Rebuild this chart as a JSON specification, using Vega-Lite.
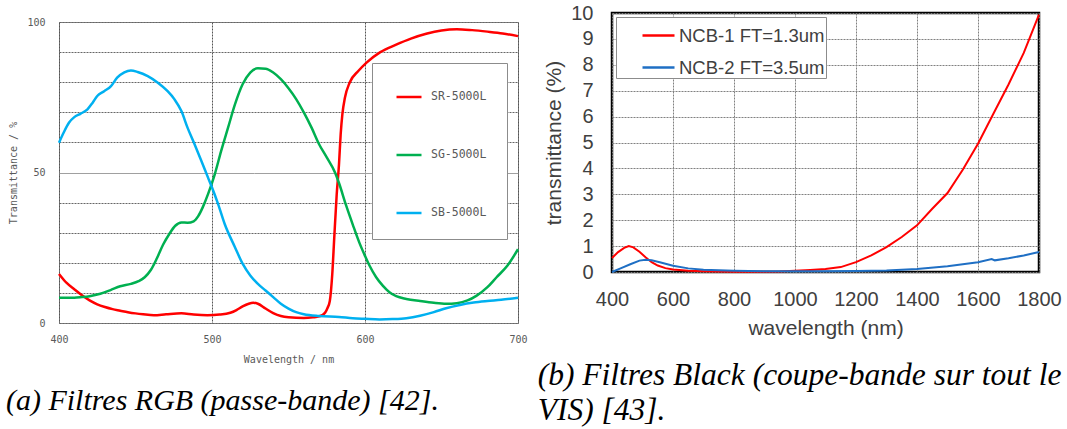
{
  "$schema": "https://vega.github.io/schema/vega-lite/v6.json",
  "background": "white",
  "padding": {"left": 5, "top": 1, "right": 0, "bottom": 0},
  "spacing": 8,
  "columns": 2,
  "resolve": {"scale": {"color": "independent", "x": "independent", "y": "independent"}, "legend": {"color": "independent"}},
  "datasets": {
    "spacer": [],
    "rgb": [
      {"wl": 400, "T": 16.3, "filter": "SR-5000L"}, {"wl": 405, "T": 13.3, "filter": "SR-5000L"}, {"wl": 410, "T": 11.2, "filter": "SR-5000L"}, {"wl": 415, "T": 9.2, "filter": "SR-5000L"}, {"wl": 420, "T": 7.5, "filter": "SR-5000L"}, {"wl": 425, "T": 6.2, "filter": "SR-5000L"}, {"wl": 430, "T": 5.3, "filter": "SR-5000L"}, {"wl": 435, "T": 4.6, "filter": "SR-5000L"}, {"wl": 440, "T": 4.1, "filter": "SR-5000L"}, {"wl": 445, "T": 3.6, "filter": "SR-5000L"}, {"wl": 450, "T": 3.2, "filter": "SR-5000L"}, {"wl": 455, "T": 2.9, "filter": "SR-5000L"}, {"wl": 462, "T": 2.6, "filter": "SR-5000L"}, {"wl": 470, "T": 2.9, "filter": "SR-5000L"}, {"wl": 480, "T": 3.2, "filter": "SR-5000L"}, {"wl": 488, "T": 2.8, "filter": "SR-5000L"}, {"wl": 497, "T": 2.6, "filter": "SR-5000L"}, {"wl": 505, "T": 2.8, "filter": "SR-5000L"}, {"wl": 512, "T": 3.4, "filter": "SR-5000L"}, {"wl": 516, "T": 4.3, "filter": "SR-5000L"}, {"wl": 520, "T": 5.5, "filter": "SR-5000L"}, {"wl": 524, "T": 6.4, "filter": "SR-5000L"}, {"wl": 527, "T": 6.7, "filter": "SR-5000L"}, {"wl": 530, "T": 6.4, "filter": "SR-5000L"}, {"wl": 535, "T": 4.8, "filter": "SR-5000L"}, {"wl": 540, "T": 3.3, "filter": "SR-5000L"}, {"wl": 545, "T": 2.3, "filter": "SR-5000L"}, {"wl": 550, "T": 1.9, "filter": "SR-5000L"}, {"wl": 560, "T": 1.7, "filter": "SR-5000L"}, {"wl": 566, "T": 1.9, "filter": "SR-5000L"}, {"wl": 570, "T": 2.2, "filter": "SR-5000L"}, {"wl": 572, "T": 2.6, "filter": "SR-5000L"}, {"wl": 574, "T": 3.5, "filter": "SR-5000L"}, {"wl": 575.5, "T": 5, "filter": "SR-5000L"}, {"wl": 577, "T": 7.3, "filter": "SR-5000L"}, {"wl": 578.6, "T": 16.2, "filter": "SR-5000L"}, {"wl": 579.9, "T": 28.3, "filter": "SR-5000L"}, {"wl": 581.5, "T": 42.7, "filter": "SR-5000L"}, {"wl": 583, "T": 52.7, "filter": "SR-5000L"}, {"wl": 584.1, "T": 62.7, "filter": "SR-5000L"}, {"wl": 585.2, "T": 69.3, "filter": "SR-5000L"}, {"wl": 586.9, "T": 74.9, "filter": "SR-5000L"}, {"wl": 590, "T": 79.9, "filter": "SR-5000L"}, {"wl": 595.6, "T": 83.7, "filter": "SR-5000L"}, {"wl": 601, "T": 86.5, "filter": "SR-5000L"}, {"wl": 610, "T": 90, "filter": "SR-5000L"}, {"wl": 620, "T": 92.4, "filter": "SR-5000L"}, {"wl": 630, "T": 94.5, "filter": "SR-5000L"}, {"wl": 640, "T": 96.1, "filter": "SR-5000L"}, {"wl": 650, "T": 97.2, "filter": "SR-5000L"}, {"wl": 660, "T": 97.6, "filter": "SR-5000L"}, {"wl": 670, "T": 97.3, "filter": "SR-5000L"}, {"wl": 680, "T": 96.8, "filter": "SR-5000L"}, {"wl": 690, "T": 96.2, "filter": "SR-5000L"}, {"wl": 700, "T": 95.3, "filter": "SR-5000L"},
      {"wl": 400, "T": 8.4, "filter": "SG-5000L"}, {"wl": 405, "T": 8.4, "filter": "SG-5000L"}, {"wl": 410, "T": 8.4, "filter": "SG-5000L"}, {"wl": 415, "T": 8.6, "filter": "SG-5000L"}, {"wl": 420, "T": 8.9, "filter": "SG-5000L"}, {"wl": 427, "T": 9.7, "filter": "SG-5000L"}, {"wl": 434, "T": 11, "filter": "SG-5000L"}, {"wl": 440, "T": 12.2, "filter": "SG-5000L"}, {"wl": 447, "T": 13, "filter": "SG-5000L"}, {"wl": 452, "T": 13.9, "filter": "SG-5000L"}, {"wl": 456, "T": 15.2, "filter": "SG-5000L"}, {"wl": 460, "T": 17.6, "filter": "SG-5000L"}, {"wl": 464, "T": 21.5, "filter": "SG-5000L"}, {"wl": 468, "T": 26, "filter": "SG-5000L"}, {"wl": 472, "T": 29.5, "filter": "SG-5000L"}, {"wl": 476, "T": 32.3, "filter": "SG-5000L"}, {"wl": 480, "T": 33.4, "filter": "SG-5000L"}, {"wl": 484, "T": 33.3, "filter": "SG-5000L"}, {"wl": 488, "T": 33.8, "filter": "SG-5000L"}, {"wl": 491, "T": 35.5, "filter": "SG-5000L"}, {"wl": 494, "T": 38.5, "filter": "SG-5000L"}, {"wl": 497.4, "T": 42.8, "filter": "SG-5000L"}, {"wl": 501.8, "T": 49.4, "filter": "SG-5000L"}, {"wl": 506, "T": 57.2, "filter": "SG-5000L"}, {"wl": 510.5, "T": 64.9, "filter": "SG-5000L"}, {"wl": 515, "T": 72.6, "filter": "SG-5000L"}, {"wl": 520, "T": 79.3, "filter": "SG-5000L"}, {"wl": 525, "T": 83.2, "filter": "SG-5000L"}, {"wl": 530, "T": 84.6, "filter": "SG-5000L"}, {"wl": 535, "T": 84.5, "filter": "SG-5000L"}, {"wl": 540, "T": 83.2, "filter": "SG-5000L"}, {"wl": 545, "T": 81, "filter": "SG-5000L"}, {"wl": 550, "T": 78, "filter": "SG-5000L"}, {"wl": 555, "T": 74.4, "filter": "SG-5000L"}, {"wl": 560, "T": 70, "filter": "SG-5000L"}, {"wl": 565, "T": 65, "filter": "SG-5000L"}, {"wl": 570, "T": 59.4, "filter": "SG-5000L"}, {"wl": 575, "T": 55, "filter": "SG-5000L"}, {"wl": 580.4, "T": 50, "filter": "SG-5000L"}, {"wl": 583, "T": 46.5, "filter": "SG-5000L"}, {"wl": 587.5, "T": 39.3, "filter": "SG-5000L"}, {"wl": 592, "T": 32.7, "filter": "SG-5000L"}, {"wl": 596.3, "T": 26.7, "filter": "SG-5000L"}, {"wl": 600, "T": 22.3, "filter": "SG-5000L"}, {"wl": 603, "T": 19, "filter": "SG-5000L"}, {"wl": 607.3, "T": 15.2, "filter": "SG-5000L"}, {"wl": 611.6, "T": 12.4, "filter": "SG-5000L"}, {"wl": 616, "T": 10.2, "filter": "SG-5000L"}, {"wl": 620.4, "T": 8.9, "filter": "SG-5000L"}, {"wl": 627, "T": 8, "filter": "SG-5000L"}, {"wl": 636, "T": 7.3, "filter": "SG-5000L"}, {"wl": 645, "T": 6.7, "filter": "SG-5000L"}, {"wl": 653, "T": 6.4, "filter": "SG-5000L"}, {"wl": 660, "T": 6.6, "filter": "SG-5000L"}, {"wl": 667, "T": 7.5, "filter": "SG-5000L"}, {"wl": 673, "T": 9.1, "filter": "SG-5000L"}, {"wl": 680, "T": 11.9, "filter": "SG-5000L"}, {"wl": 686, "T": 15.2, "filter": "SG-5000L"}, {"wl": 693, "T": 19, "filter": "SG-5000L"}, {"wl": 700, "T": 24.5, "filter": "SG-5000L"},
      {"wl": 400, "T": 59.9, "filter": "SB-5000L"}, {"wl": 403, "T": 63.2, "filter": "SB-5000L"}, {"wl": 406.6, "T": 66.6, "filter": "SB-5000L"}, {"wl": 410, "T": 68.4, "filter": "SB-5000L"}, {"wl": 414, "T": 69.5, "filter": "SB-5000L"}, {"wl": 418.6, "T": 71, "filter": "SB-5000L"}, {"wl": 422, "T": 73.2, "filter": "SB-5000L"}, {"wl": 425, "T": 75.4, "filter": "SB-5000L"}, {"wl": 429.5, "T": 77, "filter": "SB-5000L"}, {"wl": 434, "T": 78.7, "filter": "SB-5000L"}, {"wl": 438, "T": 81.5, "filter": "SB-5000L"}, {"wl": 442.7, "T": 83.3, "filter": "SB-5000L"}, {"wl": 447, "T": 83.9, "filter": "SB-5000L"}, {"wl": 451.4, "T": 83.4, "filter": "SB-5000L"}, {"wl": 458, "T": 82, "filter": "SB-5000L"}, {"wl": 464.6, "T": 79.8, "filter": "SB-5000L"}, {"wl": 471, "T": 77, "filter": "SB-5000L"}, {"wl": 475.5, "T": 74.3, "filter": "SB-5000L"}, {"wl": 480, "T": 70.4, "filter": "SB-5000L"}, {"wl": 484, "T": 64.9, "filter": "SB-5000L"}, {"wl": 488.6, "T": 59.4, "filter": "SB-5000L"}, {"wl": 493, "T": 53.9, "filter": "SB-5000L"}, {"wl": 497.4, "T": 48.3, "filter": "SB-5000L"}, {"wl": 500, "T": 45, "filter": "SB-5000L"}, {"wl": 504, "T": 39.5, "filter": "SB-5000L"}, {"wl": 508.3, "T": 32.9, "filter": "SB-5000L"}, {"wl": 515, "T": 25.2, "filter": "SB-5000L"}, {"wl": 520, "T": 19.7, "filter": "SB-5000L"}, {"wl": 525, "T": 15.8, "filter": "SB-5000L"}, {"wl": 530, "T": 13, "filter": "SB-5000L"}, {"wl": 535, "T": 10.8, "filter": "SB-5000L"}, {"wl": 540, "T": 8.6, "filter": "SB-5000L"}, {"wl": 545, "T": 6.4, "filter": "SB-5000L"}, {"wl": 550, "T": 4.8, "filter": "SB-5000L"}, {"wl": 555, "T": 3.6, "filter": "SB-5000L"}, {"wl": 560, "T": 2.9, "filter": "SB-5000L"}, {"wl": 570, "T": 2.3, "filter": "SB-5000L"}, {"wl": 583, "T": 2, "filter": "SB-5000L"}, {"wl": 592, "T": 1.6, "filter": "SB-5000L"}, {"wl": 600, "T": 1.4, "filter": "SB-5000L"}, {"wl": 609.5, "T": 1.2, "filter": "SB-5000L"}, {"wl": 618, "T": 1.3, "filter": "SB-5000L"}, {"wl": 627, "T": 1.6, "filter": "SB-5000L"}, {"wl": 636, "T": 2.4, "filter": "SB-5000L"}, {"wl": 645, "T": 3.6, "filter": "SB-5000L"}, {"wl": 653, "T": 4.9, "filter": "SB-5000L"}, {"wl": 662, "T": 6, "filter": "SB-5000L"}, {"wl": 671, "T": 6.8, "filter": "SB-5000L"}, {"wl": 680, "T": 7.3, "filter": "SB-5000L"}, {"wl": 689, "T": 7.7, "filter": "SB-5000L"}, {"wl": 700, "T": 8.4, "filter": "SB-5000L"}
    ],
    "ncb": [
      {"wl": 400, "T": 0.54, "filter": "NCB-1 FT=1.3um"}, {"wl": 420, "T": 0.77, "filter": "NCB-1 FT=1.3um"}, {"wl": 440, "T": 0.93, "filter": "NCB-1 FT=1.3um"}, {"wl": 455, "T": 1.0, "filter": "NCB-1 FT=1.3um"}, {"wl": 470, "T": 0.95, "filter": "NCB-1 FT=1.3um"}, {"wl": 490, "T": 0.78, "filter": "NCB-1 FT=1.3um"}, {"wl": 510, "T": 0.57, "filter": "NCB-1 FT=1.3um"}, {"wl": 530, "T": 0.38, "filter": "NCB-1 FT=1.3um"}, {"wl": 550, "T": 0.25, "filter": "NCB-1 FT=1.3um"}, {"wl": 575, "T": 0.15, "filter": "NCB-1 FT=1.3um"}, {"wl": 600, "T": 0.1, "filter": "NCB-1 FT=1.3um"}, {"wl": 650, "T": 0.05, "filter": "NCB-1 FT=1.3um"}, {"wl": 700, "T": 0.03, "filter": "NCB-1 FT=1.3um"}, {"wl": 800, "T": 0.01, "filter": "NCB-1 FT=1.3um"}, {"wl": 900, "T": 0.01, "filter": "NCB-1 FT=1.3um"}, {"wl": 950, "T": 0.02, "filter": "NCB-1 FT=1.3um"}, {"wl": 1000, "T": 0.05, "filter": "NCB-1 FT=1.3um"}, {"wl": 1050, "T": 0.08, "filter": "NCB-1 FT=1.3um"}, {"wl": 1100, "T": 0.12, "filter": "NCB-1 FT=1.3um"}, {"wl": 1150, "T": 0.19, "filter": "NCB-1 FT=1.3um"}, {"wl": 1200, "T": 0.38, "filter": "NCB-1 FT=1.3um"}, {"wl": 1250, "T": 0.64, "filter": "NCB-1 FT=1.3um"}, {"wl": 1300, "T": 0.96, "filter": "NCB-1 FT=1.3um"}, {"wl": 1350, "T": 1.35, "filter": "NCB-1 FT=1.3um"}, {"wl": 1400, "T": 1.8, "filter": "NCB-1 FT=1.3um"}, {"wl": 1450, "T": 2.44, "filter": "NCB-1 FT=1.3um"}, {"wl": 1500, "T": 3.05, "filter": "NCB-1 FT=1.3um"}, {"wl": 1550, "T": 3.95, "filter": "NCB-1 FT=1.3um"}, {"wl": 1600, "T": 4.95, "filter": "NCB-1 FT=1.3um"}, {"wl": 1650, "T": 6.1, "filter": "NCB-1 FT=1.3um"}, {"wl": 1700, "T": 7.24, "filter": "NCB-1 FT=1.3um"}, {"wl": 1750, "T": 8.46, "filter": "NCB-1 FT=1.3um"}, {"wl": 1800, "T": 9.94, "filter": "NCB-1 FT=1.3um"},
      {"wl": 400, "T": 0.0, "filter": "NCB-2 FT=3.5um"}, {"wl": 430, "T": 0.15, "filter": "NCB-2 FT=3.5um"}, {"wl": 460, "T": 0.3, "filter": "NCB-2 FT=3.5um"}, {"wl": 490, "T": 0.44, "filter": "NCB-2 FT=3.5um"}, {"wl": 510, "T": 0.47, "filter": "NCB-2 FT=3.5um"}, {"wl": 530, "T": 0.45, "filter": "NCB-2 FT=3.5um"}, {"wl": 560, "T": 0.37, "filter": "NCB-2 FT=3.5um"}, {"wl": 600, "T": 0.24, "filter": "NCB-2 FT=3.5um"}, {"wl": 650, "T": 0.14, "filter": "NCB-2 FT=3.5um"}, {"wl": 700, "T": 0.09, "filter": "NCB-2 FT=3.5um"}, {"wl": 800, "T": 0.05, "filter": "NCB-2 FT=3.5um"}, {"wl": 900, "T": 0.03, "filter": "NCB-2 FT=3.5um"}, {"wl": 1000, "T": 0.03, "filter": "NCB-2 FT=3.5um"}, {"wl": 1100, "T": 0.03, "filter": "NCB-2 FT=3.5um"}, {"wl": 1200, "T": 0.04, "filter": "NCB-2 FT=3.5um"}, {"wl": 1300, "T": 0.06, "filter": "NCB-2 FT=3.5um"}, {"wl": 1400, "T": 0.12, "filter": "NCB-2 FT=3.5um"}, {"wl": 1500, "T": 0.22, "filter": "NCB-2 FT=3.5um"}, {"wl": 1600, "T": 0.38, "filter": "NCB-2 FT=3.5um"}, {"wl": 1645, "T": 0.5, "filter": "NCB-2 FT=3.5um"}, {"wl": 1655, "T": 0.45, "filter": "NCB-2 FT=3.5um"}, {"wl": 1700, "T": 0.53, "filter": "NCB-2 FT=3.5um"}, {"wl": 1750, "T": 0.64, "filter": "NCB-2 FT=3.5um"}, {"wl": 1800, "T": 0.77, "filter": "NCB-2 FT=3.5um"}
    ]
  },
  "concat": [
    {
      "spacing": 0,
      "vconcat": [
        {
          "width": 459,
          "height": 3,
          "view": {"stroke": null},
          "data": {"name": "spacer"},
          "mark": {"type": "rule"},
          "encoding": {}
        },
        {
          "width": 459,
          "height": 301,
          "view": {"stroke": "#8c8c8c", "strokeWidth": 1},
          "title": {"text": "(a) Filtres RGB (passe-bande) [42].", "orient": "bottom", "anchor": "start", "frame": "bounds", "font": "Liberation Serif", "fontSize": 30, "fontStyle": "italic", "fontWeight": "normal", "color": "#000000", "offset": 22, "dx": -3},
          "data": {"name": "rgb"},
          "mark": {"type": "line", "interpolate": "monotone", "strokeWidth": 2.5},
          "encoding": {
            "x": {"field": "wl", "type": "quantitative", "scale": {"domain": [400, 700], "nice": false},
              "axis": {"values": [400, 500, 600, 700], "labelFlush": false, "title": "Wavelength / nm", "domain": false, "ticks": false, "labelFont": "DejaVu Sans Mono", "labelFontSize": 10, "labelColor": "#595959", "labelPadding": 11, "titleFont": "DejaVu Sans Mono", "titleFontSize": 10, "titleFontWeight": "normal", "titleColor": "#595959", "titlePadding": 10, "gridColor": "#555555", "gridDash": [2, 1], "gridOpacity": 1, "gridWidth": 1}},
            "y": {"field": "T", "type": "quantitative", "scale": {"domain": [0, 100], "nice": false},
              "axis": {"values": [0, 10, 20, 30, 40, 50, 60, 70, 80, 90, 100], "labelExpr": "datum.value % 50 === 0 ? datum.label : ''", "title": "Transmittance / %", "domain": false, "ticks": false, "labelFont": "DejaVu Sans Mono", "labelFontSize": 10, "labelColor": "#595959", "labelPadding": 14, "titleFont": "DejaVu Sans Mono", "titleFontSize": 10, "titleFontWeight": "normal", "titleColor": "#595959", "titlePadding": 8, "gridColor": {"condition": {"test": "datum.value === 50", "value": "#a0a0a0"}, "value": "#666666"}, "gridDash": {"condition": {"test": "datum.value === 50", "value": [1, 0]}, "value": [2, 1]}, "gridWidth": 1.2, "gridOpacity": 1}},
            "color": {"field": "filter", "type": "nominal", "sort": ["SR-5000L", "SG-5000L", "SB-5000L"],
              "scale": {"domain": ["SR-5000L", "SG-5000L", "SB-5000L"], "range": ["#ff0000", "#00b050", "#00b0f0"]},
              "legend": {"orient": "none", "legendX": 313, "legendY": 50, "title": null, "symbolType": "stroke", "symbolSize": 625, "symbolStrokeWidth": 2.5, "labelFont": "DejaVu Sans Mono", "labelFontSize": 11.5, "labelColor": "#595959", "labelOffset": 8, "padding": 20, "symbolOffset": 3, "rowPadding": 38, "strokeColor": "#8c8c8c", "fillColor": "white"}}
          }
        }
      ]
    },
    {
      "width": 427,
      "height": 259,
      "view": {"stroke": "#000000", "strokeWidth": 2.5},
      "title": {"text": ["(b) Filtres Black (coupe-bande sur tout le", "VIS) [43]."], "orient": "bottom", "anchor": "start", "frame": "bounds", "font": "Liberation Serif", "fontSize": 31.5, "fontStyle": "italic", "fontWeight": "normal", "color": "#000000", "offset": 22, "lineHeight": 35, "dx": -6},
      "data": {"name": "ncb"},
      "mark": {"type": "line", "strokeWidth": 2},
      "encoding": {
        "x": {"field": "wl", "type": "quantitative", "scale": {"domain": [400, 1800], "nice": false},
          "axis": {"values": [400, 600, 800, 1000, 1200, 1400, 1600, 1800], "format": "d", "labelFlush": false, "labelOverlap": false, "title": "wavelength (nm)", "domain": false, "ticks": false, "labelFont": "Liberation Sans", "labelFontSize": 20, "labelColor": "#404040", "labelPadding": 17, "titleFont": "Liberation Sans", "titleFontSize": 21, "titleFontWeight": "normal", "titleColor": "#404040", "titlePadding": 8, "gridColor": "#808080", "gridDash": [2, 1], "gridOpacity": 1, "gridWidth": 1}},
        "y": {"field": "T", "type": "quantitative", "scale": {"domain": [0, 10], "nice": false},
          "axis": {"values": [0, 1, 2, 3, 4, 5, 6, 7, 8, 9, 10], "labelOverlap": false, "title": "transmittance (%)", "domain": false, "ticks": false, "labelFont": "Liberation Sans", "labelFontSize": 20, "labelColor": "#404040", "labelPadding": 19, "titleFont": "Liberation Sans", "titleFontSize": 21, "titleFontWeight": "normal", "titleColor": "#404040", "titlePadding": 6, "gridColor": "#808080", "gridDash": [2, 1], "gridOpacity": 1, "gridWidth": 1}},
        "color": {"field": "filter", "type": "nominal",
          "scale": {"domain": ["NCB-1 FT=1.3um", "NCB-2 FT=3.5um"], "range": ["#ff0000", "#1f6fc4"]},
          "legend": {"orient": "none", "legendX": 4, "legendY": 4, "title": null, "symbolType": "stroke", "symbolSize": 1024, "symbolStrokeWidth": 2.5, "labelFont": "Liberation Sans", "labelFontSize": 18.5, "labelColor": "#404040", "labelOffset": 3, "padding": 1, "rowPadding": 5, "symbolOffset": 24, "strokeColor": "#8c8c8c", "fillColor": "white"}}
      }
    }
  ]
}
